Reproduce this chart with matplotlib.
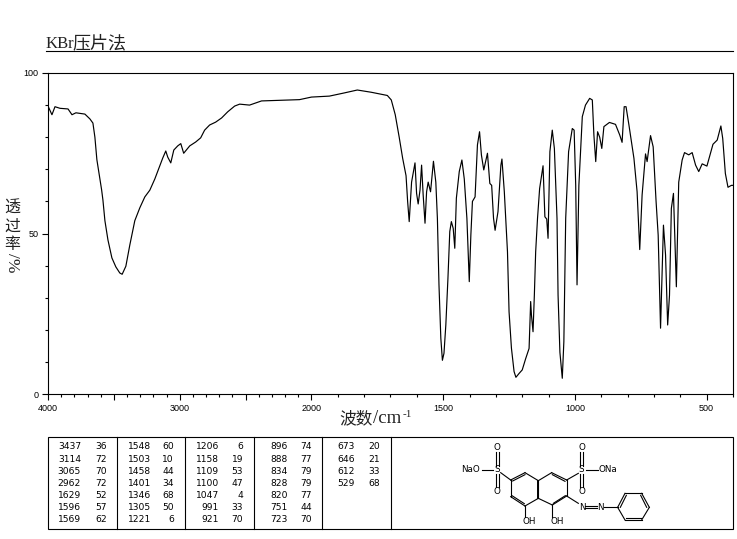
import numpy as np
import matplotlib
matplotlib.use('Agg')
import matplotlib.pyplot as plt
from matplotlib.ticker import FixedLocator, FixedFormatter

# spectrum
wavenumber = [4000,3970,3947,3909,3848,3818,3788,3720,3682,3659,3644,3629,3610,3593,3583,3568,3545,3515,3485,3455,
              3437,3409,3379,3341,3303,3265,3227,3189,3152,3129,3106,3091,3068,3045,3015,2992,2970,2924,2879,2841,
              2811,2773,2727,2682,2636,2583,2545,2470,2379,2242,2091,2000,1932,1875,1826,1773,1712,1697,1682,1667,
              1654,1641,1635,1629,1620,1607,1601,1595,1588,1582,1576,1569,1563,1557,1548,1537,1528,1522,1516,1509,
              1503,1497,1490,1482,1475,1469,1462,1456,1450,1439,1429,1420,1410,1401,1395,1389,1379,1370,1362,1355,
              1346,1332,1323,1316,1309,1303,1292,1281,1277,1268,1256,1250,1241,1231,1224,1212,1200,1187,1174,1168,
              1165,1159,1154,1149,1142,1134,1121,1114,1107,1102,1095,1086,1078,1068,1064,1057,1048,1042,1035,1024,
              1010,1003,997,992,985,972,960,944,934,928,921,914,906,898,890,869,846,830,821,813,
              806,795,776,764,754,745,732,726,713,703,692,684,675,669,664,656,648,641,634,626,
              615,606,593,584,568,555,542,530,517,499,476,460,446,439,429,419,406,400]
transmit = [89.7,87,89.5,89,88.8,87,87.6,87.2,85.7,84.4,80,73,68,63.6,60.4,54,48,42.4,39.6,37.7,
            37.3,39.8,46.4,54,58,61.4,63.5,67,71,73.5,75.7,73.8,72,76,77.3,78,75,77.3,78.5,79.8,
            82.2,83.8,84.7,86,87.9,89.7,90.3,90,91.3,91.5,91.7,92.5,92.8,93.8,94.7,94,93,91.6,87,80,
            73.5,68,60,53.7,66,72,62.5,59.2,63.5,71.3,62,53.2,63,66,63,72.5,66,54.7,34,17.4,
            10.5,12.7,21.5,36,50.6,53.7,51.6,45.4,61,69.3,72.9,67,54.7,35,49.5,60,61.4,77.6,81.7,74.5,
            69.8,75,65.6,65,54.8,51,56.8,71.3,73.2,63,44.3,25.6,14.3,7,5.2,6.4,7.5,11,14.2,28.8,
            24.6,19.4,30.8,44.3,54.7,64,71.1,55.2,54.5,48.5,75.5,82.2,76.5,54.7,30.8,13,4.9,16.3,54.8,75.5,
            82.7,82.2,65,34,65,86.4,90,92.1,91.6,80.7,72.4,81.7,80,76.5,83.3,84.6,84,80.7,78.4,89.5,
            89.5,83.8,73.4,63,45,62,74.8,72.4,80.5,77,60,49.5,20.5,38.6,52.6,43.3,21.5,30.8,57.8,62.5,
            33.4,66,72.9,75.2,74.5,75.2,71.3,69.3,71.7,71,77.8,79.1,83.5,79.6,68.7,64.4,65,65]

xticks_major = [4000,3500,3000,2500,2000,1500,1000,500]
xtick_labels = ['4000','','3000','','2000','1500','1000','500']
xticks_minor = list(range(400,4000,100))
yticks_major = [0,50,100]
yticks_minor = list(range(0,100,10))

peak_table = [
    ['3437','3114','3065','2962','1629','1596','1569'], ['36','72','70','72','52','57','62'],
    ['1548','1503','1458','1401','1346','1305','1221'], ['60','10','44','34','68','50','6'],
    ['1206','1158','1109','1100','1047','991','921'], ['6','19','53','47','4','33','70'],
    ['896','888','834','828','820','751','723'], ['74','77','79','79','77','44','70'],
    ['673','646','612','529'], ['20','21','33','68'],
]
col_right = [81,107,151,174,219,243,288,312,355,380]
row_y = [446.7,459,471,483,495,507.5,520]
dividers = [117,185,254,322,391]

CJK = ['Noto Sans CJK SC','DejaVu Sans']
TXT = '#222222'

def forward(v):
    v = np.asarray(v,dtype=float)
    return np.where(v<=2000, v, 2000+(v-2000)/2)

def inverse(v):
    v = np.asarray(v,dtype=float)
    return np.where(v<=2000, v, 2000+(v-2000)*2)

W,H = 737,539
fig = plt.figure(figsize=(W/100,H/100),dpi=100)
ax = fig.add_axes([48/W,1-394/H,685/W,321/H])
ax.set_xscale('function',functions=(forward,inverse))
ax.plot(wavenumber,transmit,color='black',lw=0.85)
ax.set_xlim(4000,400)
ax.set_ylim(0,100)
ax.xaxis.set_major_locator(FixedLocator(xticks_major))
ax.xaxis.set_major_formatter(FixedFormatter(xtick_labels))
ax.xaxis.set_minor_locator(FixedLocator(xticks_minor))
ax.yaxis.set_major_locator(FixedLocator(yticks_major))
ax.yaxis.set_major_formatter(FixedFormatter(['0','50','100']))
ax.yaxis.set_minor_locator(FixedLocator(yticks_minor))
ax.tick_params(which='major',length=4,width=0.8,labelsize=6.5,pad=3)
ax.tick_params(which='minor',length=2.2,width=0.8)
for lab in ax.get_xticklabels()+ax.get_yticklabels():
    lab.set_family('Liberation Sans')
for s in ax.spines.values():
    s.set_linewidth(0.8)

# overlay in pixel coordinates for title, labels, table and the structure
ov = fig.add_axes([0,0,1,1])
ov.set_xlim(0,W)
ov.set_ylim(H,0)
ov.axis('off')
ov.patch.set_alpha(0)

ov.plot([46,733],[50.5,50.5],color='black',lw=0.8)
ov.text(46,48.5,'KBr',fontsize=12,family='Liberation Serif',va='baseline',color=TXT)
ov.text(72,48.5,'压片法',fontsize=13,family=CJK,va='baseline',color=TXT)

ov.text(339,423,'波数',fontsize=12,family=CJK,va='baseline',color=TXT)
ov.text(373,423,'/cm',fontsize=13.5,family='Liberation Serif',va='baseline',color=TXT)
ov.text(403,417,'-1',fontsize=8,family='Liberation Serif',va='baseline',color=TXT)
for ch,y in zip('透过率',[208.5,226,244.5]):
    ov.text(12,y,ch,fontsize=11.5,family=CJK,ha='center',va='center',color=TXT)
ov.text(12,263,'/%',fontsize=12.5,family='Liberation Serif',rotation=-90,ha='center',va='center',color=TXT)

# peak table
ov.add_patch(plt.Rectangle((48,437),685,92,fill=False,ec='black',lw=0.8))
for x in dividers:
    ov.plot([x,x],[437,529],color='black',lw=0.8)
for col,x in zip(peak_table,col_right):
    for txt,y in zip(col,row_y):
        ov.text(x,y,txt,fontsize=6.6,family='DejaVu Sans',ha='right',va='center')

# structure, coordinates from the 3x crop
def sx(v):
    return 390+v/3
def sy(v):
    return 430+v/3
def bond(x1,y1,x2,y2,lw=0.8):
    ov.plot([sx(x1),sx(x2)],[sy(y1),sy(y2)],color='black',lw=lw)
def atom(x,y,t):
    ov.text(sx(x),sy(y),t,fontsize=6.3,family='DejaVu Sans',ha='center',va='center')

left_ring = [(362,150),(405,128),(445,152),(445,205),(405,228),(362,200),(362,150)]
right_ring = [(445,152),(485,128),(530,150),(530,198),(487,225),(445,205)]
phenyl = [(683,232),(705,190),(755,190),(778,232),(755,270),(705,270),(683,232)]
for ring in (left_ring,right_ring,phenyl):
    for a,b in zip(ring[:-1],ring[1:]):
        bond(a[0],a[1],b[0],b[1])
bond(445,152,445,205,1.4)
inner = [(368,153,405,134),(366,197,403,221),(487,134,525,154),(490,220,526,197),
         (691,232,709,196),(752,196,770,232),(709,264,752,264)]
for b in inner:
    bond(*b)
# sulfonates
for x in (322,575):
    bond(x-4,66,x-4,107)
    bond(x+4,66,x+4,107)
    bond(x-4,133,x-4,171)
    bond(x+4,133,x+4,171)
    atom(x,52,'O')
    atom(x,120,'S')
    atom(x,183,'O')
bond(275,120,310,120)
bond(588,120,625,120)
bond(332,128,362,150)
bond(530,150,565,130)
atom(243,120,'NaO')
atom(655,120,'ONa')
# azo
bond(530,198,565,220)
bond(585,228,622,228)
bond(585,235,622,235)
bond(642,232,683,232)
atom(577,232,'N')
atom(632,232,'N')
# hydroxyls
bond(405,228,405,262)
bond(487,225,487,262)
atom(418,275,'OH')
atom(501,275,'OH')

fig.savefig('out.png',dpi=100)
